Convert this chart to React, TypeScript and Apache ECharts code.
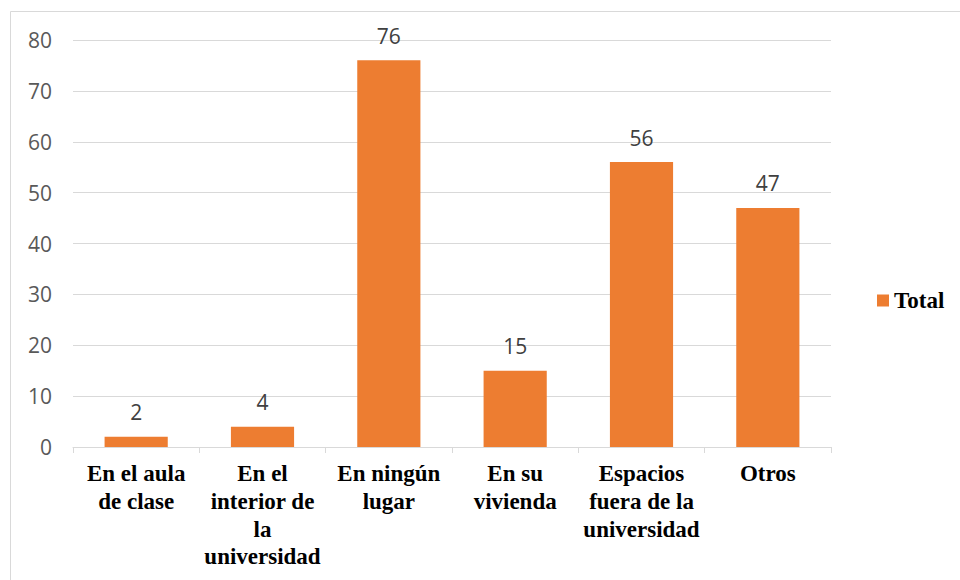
import React, { useEffect, useRef } from "react";
import * as echarts from "echarts";

const categories = [
  "En el aula\nde clase",
  "En el\ninterior de\nla\nuniversidad",
  "En ningún\nlugar",
  "En su\nvivienda",
  "Espacios\nfuera de la\nuniversidad",
  "Otros",
];
const totals = [2, 4, 76, 15, 56, 47];
const seriesName = "Total";

const serif = "Liberation Serif";
const sans = "Open Sans";

export default function App() {
  const ref = useRef<HTMLDivElement>(null);
  useEffect(() => {
    if (!ref.current) return;
    const chart = echarts.init(ref.current, undefined, { renderer: "svg" });
    chart.setOption({
      animation: false,
      backgroundColor: "#ffffff",
      textStyle: { fontFamily: serif },
      graphic: [
        {
          type: "rect",
          shape: { x: 10.5, y: 11.5, width: 960, height: 600 },
          style: { fill: "none", stroke: "#D9D9D9", lineWidth: 1 },
          silent: true,
        },
      ],
      grid: { left: 73, right: 129, top: 40, bottom: 133 },
      legend: {
        data: [seriesName],
        left: 872,
        top: 284,
        orient: "vertical",
        icon: "rect",
        itemWidth: 12,
        itemHeight: 12,
        itemGap: 6,
        textStyle: {
          fontFamily: serif,
          fontWeight: "bold",
          fontSize: 23,
          color: "#000000",
        },
      },
      xAxis: {
        type: "category",
        data: categories,
        axisLine: { show: true, lineStyle: { color: "#D9D9D9", width: 1 } },
        axisTick: { show: true, length: 6, lineStyle: { color: "#D9D9D9" } },
        axisLabel: {
          interval: 0,
          margin: 13,
          align: "center",
          formatter: (v: string) =>
            v
              .split("\n")
              .map((s) => `{c|${s}}`)
              .join("\n"),
          rich: {
            c: {
              fontFamily: serif,
              fontWeight: "bold",
              fontSize: 23,
              lineHeight: 27.7,
              color: "#000000",
              align: "center",
            },
          },
        },
      },
      yAxis: {
        type: "value",
        min: 0,
        max: 80,
        interval: 10,
        axisLine: { show: false },
        axisTick: { show: false },
        splitLine: { lineStyle: { color: "#D9D9D9", width: 1 } },
        axisLabel: {
          margin: 21,
          fontFamily: sans,
          fontSize: 21,
          color: "#595959",
        },
      },
      series: [
        {
          name: seriesName,
          type: "bar",
          data: totals,
          barWidth: "50%",
          itemStyle: { color: "#ED7D31" },
          label: {
            show: true,
            position: "top",
            distance: 14,
            fontFamily: sans,
            fontSize: 21,
            color: "#404040",
          },
        },
      ],
    });
    return () => chart.dispose();
  }, []);
  return (
    <div
      ref={ref}
      style={{ position: "fixed", left: 0, top: 0, width: 960, height: 580 }}
    />
  );
}
